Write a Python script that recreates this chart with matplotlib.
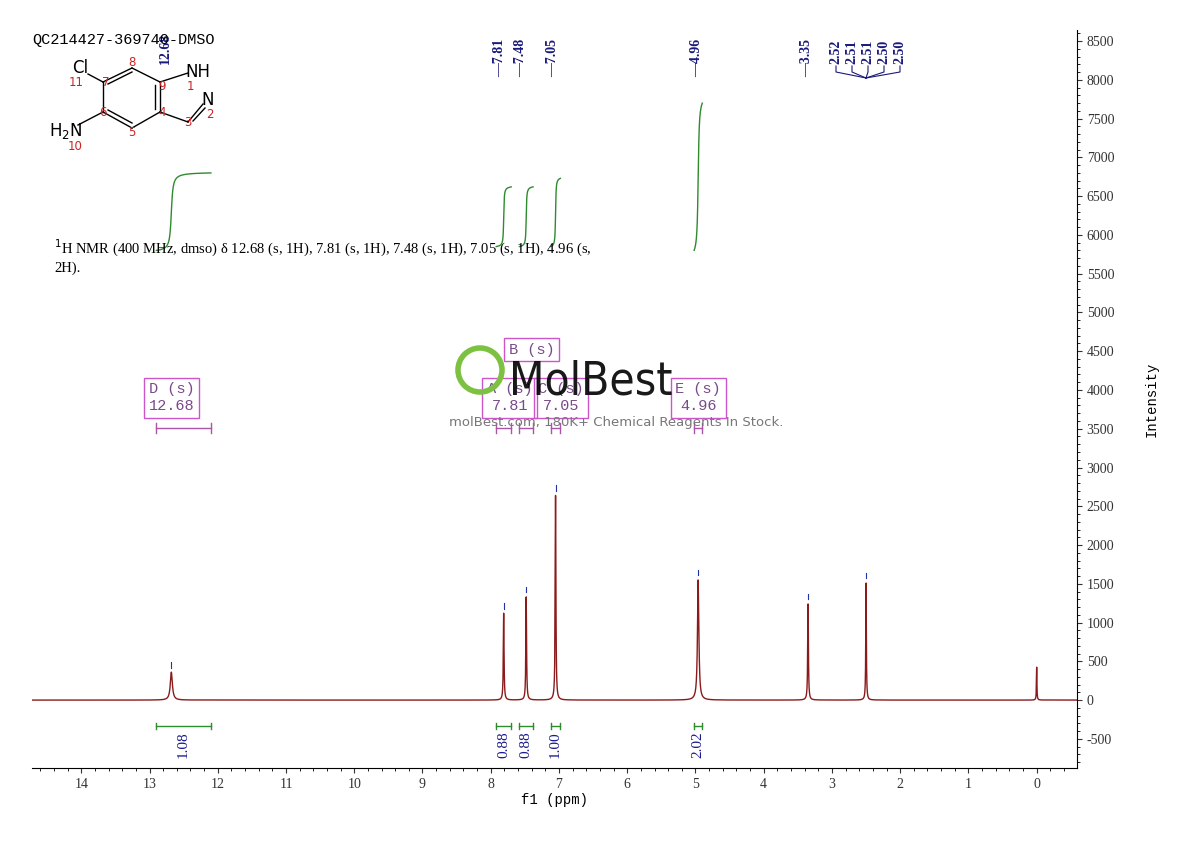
import numpy as np
import matplotlib.pyplot as plt
from matplotlib.ticker import MultipleLocator

plt.rcParams['font.family'] = ['Liberation Serif', 'DejaVu Sans']
plt.rcParams['axes.unicode_minus'] = False

# peaks: shift (ppm), height, half width (ppm)
shifts = [12.68, 7.81, 7.48, 7.05, 4.96, 3.35, 2.50, 0.00]
heights = [360, 1120, 1330, 2640, 1550, 1240, 1510, 425]
widths = [0.018, 0.006, 0.006, 0.006, 0.012, 0.006, 0.005, 0.004]

peak_labels = ['7.81', '7.48', '7.05', '4.96', '3.35']
dmso_labels = ['2.52', '2.51', '2.51', '2.50', '2.50']

# integrals: (from, to, value, curve start, curve end)
int_from = [12.9, 7.92, 7.58, 7.12, 5.02]
int_to = [12.1, 7.70, 7.38, 6.98, 4.90]
int_vals = ['1.08', '0.88', '0.88', '1.00', '2.02']
curve_lo = [5800, 5850, 5850, 5850, 5800]
curve_hi = [6800, 6620, 6620, 6730, 7700]

# multiplet boxes
mult_names = ['D (s)', 'A (s)', 'B (s)', 'C (s)', 'E (s)']
mult_shift = ['12.68', '7.81', '7.48', '7.05', '4.96']

x = np.linspace(-0.6, 14.75, 40000)
y = np.zeros_like(x)
for s, h, w in zip(shifts, heights, widths):
    y += h / (1 + ((x - s) / w) ** 2)

fig = plt.figure(figsize=(11.9, 8.41), dpi=100)
ax = fig.add_axes([0.027, 0.087, 0.878, 0.877])
ax.plot(x, y, color='#8b1a1a', lw=1)
ax.set_xlim(14.72, -0.59)
ax.set_ylim(-874, 8640)
ax.yaxis.tick_right()
ax.yaxis.set_label_position('right')
ax.yaxis.set_minor_locator(MultipleLocator(100))
ax.xaxis.set_major_locator(MultipleLocator(1))
ax.xaxis.set_minor_locator(MultipleLocator(0.2))
ax.set_yticks(np.arange(-500, 8501, 500))
for s in ['top', 'left']:
    ax.spines[s].set_visible(False)
ax.tick_params(labelsize=10, colors='#333333')
ax.set_xlabel('f1 (ppm)', family='Liberation Mono', fontsize=10, labelpad=2)
ax.set_ylabel('Intensity', family='Liberation Mono', fontsize=10, labelpad=22)

# peak tops
for s, h in zip(shifts[:-1], heights[:-1]):
    ax.plot([s, s], [h + 60, h + 130], color='#2233aa', lw=0.8)

# integral curves and bars
for a, b, v, lo, hi in zip(int_from, int_to, int_vals, curve_lo, curve_hi):
    m = (x <= a) & (x >= b)
    seg = np.cumsum(y[m][::-1])
    seg = lo + (hi - lo) * seg / seg[-1]
    ax.plot(x[m][::-1], seg, color='#2e8b2e', lw=1)
    ax.plot([a, b], [-335, -335], color='#2e8b2e', lw=1)
    ax.plot([a, a], [-375, -295], color='#2e8b2e', lw=1)
    ax.plot([b, b], [-375, -295], color='#2e8b2e', lw=1)
    ax.text((a + b) / 2, -400, v, rotation=90, ha='center', va='top',
            color='#1a1a8c', fontsize=11)

# multiplet boxes
box_x = [12.68, 7.72, 7.40, 6.97, 4.96]
box_y = [3900, 3900, 4520, 3900, 3900]
for n, sh, bx, by in zip(mult_names, mult_shift, box_x, box_y):
    txt = n if n == 'B (s)' else n + '\n' + sh
    ax.text(bx, by, txt, ha='center', va='center', fontsize=11, linespacing=1.25,
            family='Liberation Mono', color='#7a4a8a',
            bbox=dict(boxstyle='square,pad=0.3', fc='none', ec='#cc55cc', lw=1))
for a, b in zip(int_from, int_to):
    ax.plot([a, b], [3505, 3505], color='#aa55aa', lw=1)
    ax.plot([a, a], [3440, 3570], color='#aa55aa', lw=1)
    ax.plot([b, b], [3440, 3570], color='#aa55aa', lw=1)

ax.text(14.4, 5720, '$^1$H NMR (400 MHz, dmso) δ 12.68 (s, 1H), 7.81 (s, 1H), 7.48 (s, 1H), 7.05 (s, 1H), 4.96 (s,\n2H).',
        fontsize=10.5, va='center', ha='left')

# watermark
fig.text(0.428, 0.531, 'MolBest', fontsize=33, family='DejaVu Sans', color='black',
         alpha=0.9, stretch='condensed')
fig.text(0.377, 0.494, 'molBest.com, 180K+ Chemical Reagents In Stock.', fontsize=9.5,
         family='DejaVu Sans', color='#777777')

# peak labels on top (figure pixel overlay)
ov = fig.add_axes([0, 0, 1, 1], facecolor='none')
ov.set_xlim(0, 1190)
ov.set_ylim(841, 0)
ov.axis('off')
ov.add_patch(plt.Circle((480, 370), 22, fill=False, ec='#7dc142', lw=4))
lab_px = [500, 521, 553, 697, 807]
for px, t in zip(lab_px, peak_labels):
    ov.text(px, 58, '—' + t, rotation=90, ha='center', va='center', fontsize=10,
            weight='bold', color='#1a1a7a')
dm_px = [836, 852, 868, 884, 900]
for px, t in zip(dm_px, dmso_labels):
    ov.text(px, 52, t, rotation=90, ha='center', va='center', fontsize=10,
            weight='bold', color='#1a1a7a')
    ov.plot([px, px, 866], [66, 72, 78], color='#1a1a7a', lw=0.8)
ov.text(165, 48, '12.68', rotation=90, ha='center', va='center', fontsize=10,
        weight='bold', color='#1a1a7a')
ov.text(32, 40, 'QC214427-369740-DMSO', fontsize=11, family='Liberation Mono', va='center')

# structure
bonds = [((103, 82), (132, 68)), ((132, 68), (160, 82)), ((160, 82), (160, 112)),
         ((160, 112), (132, 128)), ((132, 128), (103, 112)), ((103, 112), (103, 82)),
         ((103, 82), (88, 74)), ((103, 112), (78, 125)), ((160, 82), (188, 73)),
         ((160, 112), (188, 122)), ((188, 122), (203, 104))]
for p, q in bonds:
    ov.plot([p[0], q[0]], [p[1], q[1]], color='black', lw=1)
for p, q in [((108, 84), (132, 72)), ((155, 85), (155, 109)), ((108, 110), (132, 123)), ((193, 121), (205, 108))]:
    ov.plot([p[0], q[0]], [p[1], q[1]], color='black', lw=1)
for t, px, py in [('Cl', 80, 68), ('NH', 198, 72), ('N', 208, 100), ('H$_2$N', 66, 131)]:
    ov.text(px, py, t, family='DejaVu Sans', fontsize=12, ha='center', va='center')
for t, px, py in [('11', 76, 82), ('7', 106, 82), ('8', 132, 62), ('9', 162, 86), ('1', 190, 86),
                  ('2', 210, 114), ('3', 188, 122), ('4', 162, 112), ('5', 132, 132), ('6', 103, 112), ('10', 75, 146)]:
    ov.text(px, py, t, family='DejaVu Sans', fontsize=8.5, color='#cc2222', ha='center', va='center')

plt.savefig('out.png')
